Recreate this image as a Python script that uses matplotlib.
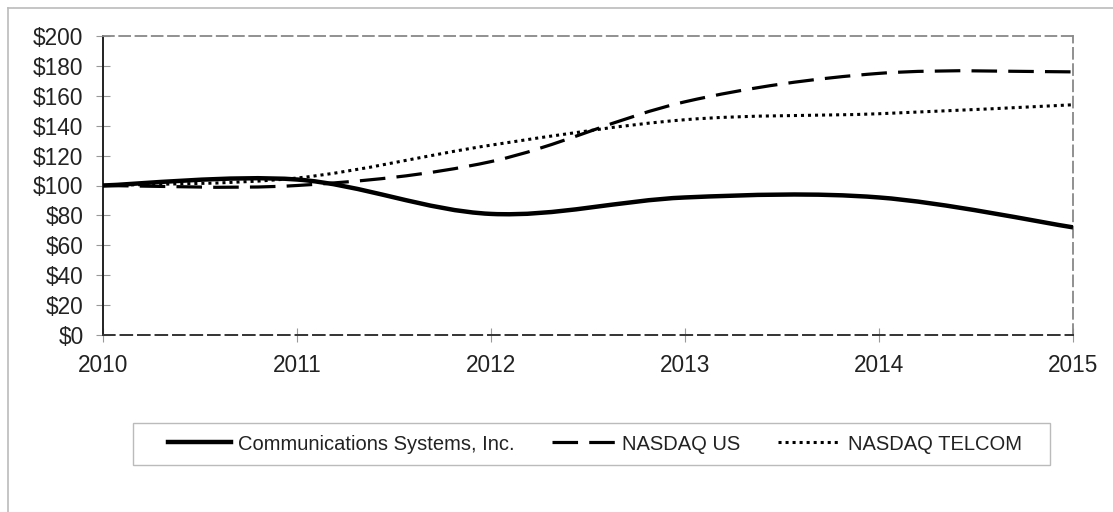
import matplotlib
matplotlib.use("Agg")
import matplotlib.pyplot as plt
from matplotlib.path import Path
from matplotlib.patches import PathPatch, Rectangle
from matplotlib.lines import Line2D

plt.rcParams['font.family'] = ['Liberation Sans', 'DejaVu Sans']

years = [2010, 2011, 2012, 2013, 2014, 2015]
csi = [100, 104, 81, 92, 92, 72]
nasdaq_us = [100, 100, 116, 156, 175, 176]
nasdaq_tel = [100, 105, 127, 144, 148, 154]

series = [
    ("Communications Systems, Inc.", csi, dict(lw=3.2, ls='-')),
    ("NASDAQ US", nasdaq_us, dict(lw=2.3, ls=(0, (8, 3.5)))),
    ("NASDAQ TELCOM", nasdaq_tel, dict(lw=2.2, ls=(0, (1, 1.3)))),
]


def smooth_path(xs, ys):
    # excel-style smoothed line: cubic bezier through the data points
    pts = list(zip(xs, ys))
    verts = [pts[0]]
    codes = [Path.MOVETO]
    n = len(pts)
    for i in range(n - 1):
        p0 = pts[max(i - 1, 0)]
        p1 = pts[i]
        p2 = pts[i + 1]
        p3 = pts[min(i + 2, n - 1)]
        c1 = (p1[0] + (p2[0] - p0[0]) / 6, p1[1] + (p2[1] - p0[1]) / 6)
        c2 = (p2[0] - (p3[0] - p1[0]) / 6, p2[1] - (p3[1] - p1[1]) / 6)
        verts += [c1, c2, p2]
        codes += [Path.CURVE4] * 3
    return Path(verts, codes)


W, H = 1113, 512
fig = plt.figure(figsize=(W / 100, H / 100), dpi=100)
ax = fig.add_axes([103 / W, 1 - 335 / H, 970 / W, 299 / H])

handles = []
for name, vals, st in series:
    patch = PathPatch(smooth_path(years, vals), fill=False, edgecolor='black',
                      linewidth=st['lw'], linestyle=st['ls'], capstyle='butt', zorder=3)
    ax.add_patch(patch)
    handles.append(Line2D([], [], color='black', lw=st['lw'], ls=st['ls'], label=name))

ax.set_xlim(2010, 2015)
ax.set_ylim(0, 200)
ax.set_xticks(years)
ax.set_xticklabels([str(y) for y in years])
ax.set_yticks(range(0, 201, 20))
ax.set_yticklabels([f"${v}" for v in range(0, 201, 20)])
ax.tick_params(axis='both', direction='inout', length=10, width=0.8, color='#999999',
               labelsize=16.3, labelcolor='#222222')
ax.tick_params(axis='y', pad=9)
ax.tick_params(axis='x', pad=9)

for s in ['top', 'right']:
    ax.spines[s].set_linestyle((0, (6, 3)))
    ax.spines[s].set_color('#888888')
    ax.spines[s].set_linewidth(1.3)
ax.spines['left'].set_color('#222222')
ax.spines['left'].set_linewidth(1.4)
ax.spines['bottom'].set_linestyle((0, (6, 3)))
ax.spines['bottom'].set_color('#333333')
ax.spines['bottom'].set_linewidth(1.4)

leg = fig.legend(handles=handles, loc='center', ncol=3,
                 bbox_to_anchor=((170 + 1020) / 2 / W, 1 - 444 / H),
                 fontsize=14.5, handlelength=3.1, columnspacing=1.9, handletextpad=0.35,
                 frameon=False, borderpad=0.45, borderaxespad=0)
for t in leg.get_texts():
    t.set_color('#222222')

# legend box
fig.add_artist(Rectangle((133 / W, 1 - 465 / H), 917 / W, 42 / H, transform=fig.transFigure,
                         fill=False, edgecolor='#bbbbbb', lw=1.0))

# outer chart border (top and left visible)
fig.add_artist(Line2D([8 / W, 1], [1 - 8 / H] * 2, color='#bbbbbb', lw=1.2))
fig.add_artist(Line2D([8 / W] * 2, [0, 1 - 8 / H], color='#bbbbbb', lw=1.2))

fig.savefig("out.png", dpi=100)
